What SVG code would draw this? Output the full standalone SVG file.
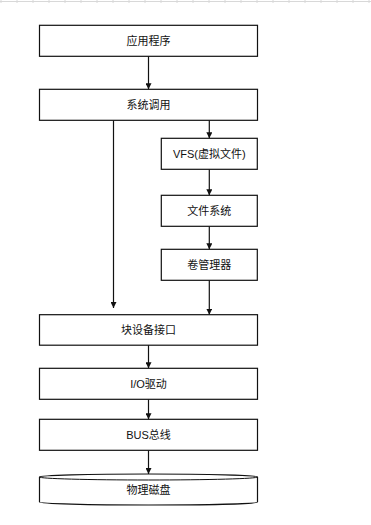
<svg xmlns="http://www.w3.org/2000/svg" width="371" height="525" viewBox="0 0 371 525">
<defs>
<style>
.box{fill:#fff;stroke:#111;stroke-width:1.2}
.lbl{font-family:"Liberation Sans","Noto Sans CJK SC",sans-serif;font-size:11px;fill:#111;text-anchor:middle;dominant-baseline:central}
.con{fill:none;stroke:#111;stroke-width:1.2;marker-end:url(#ah)}
.rule{stroke:#d8d8d8;stroke-width:1}
</style>
<marker id="ah" viewBox="0 0 8 8" refX="8" refY="4" markerWidth="6" markerHeight="6" markerUnits="userSpaceOnUse" orient="auto">
<path d="M0,0 L8,4 L0,8 Z" fill="#111"/>
</marker>
</defs>
<rect width="371" height="525" fill="#fff"/>
<g id="ruler">
<line class="rule" x1="0" y1="1.5" x2="371" y2="1.5"/>
<path class="rule" d="M1,0v3M17,0v3M33,0v3M49,0v3M65,0v3M81,0v3M97,0v3M113,0v3M129,0v3M145,0v3M161,0v3M177,0v3M193,0v3M209,0v3M225,0v3M241,0v3M257,0v3M273,0v3M289,0v3M305,0v3M321,0v3M337,0v3M353,0v3M369,0v3"/>
</g>
<g id="connectors">
<line class="con" x1="148.5" y1="56" x2="148.5" y2="89.3"/>
<line class="con" x1="209.3" y1="120.3" x2="209.3" y2="138.3"/>
<line class="con" x1="113.5" y1="120.3" x2="113.5" y2="308"/>
<line class="con" x1="209.3" y1="169.3" x2="209.3" y2="195.3"/>
<line class="con" x1="209.3" y1="226.3" x2="209.3" y2="249.3"/>
<line class="con" x1="209.3" y1="280.3" x2="209.3" y2="314.7"/>
<line class="con" x1="148.5" y1="345" x2="148.5" y2="368.3"/>
<line class="con" x1="148.5" y1="399.3" x2="148.5" y2="419.3"/>
<line class="con" x1="148.5" y1="450.3" x2="148.5" y2="474"/>
</g>
<g id="app"><rect class="box" x="39.5" y="25.3" width="218" height="31"/><text class="lbl" x="148.5" y="41">应用程序</text></g>
<g id="syscall"><rect class="box" x="39.5" y="89.3" width="218" height="31"/><text class="lbl" x="148.5" y="105">系统调用</text></g>
<g id="vfs"><rect class="box" x="161.3" y="138.3" width="96" height="31"/><text class="lbl" x="209.3" y="154">VFS(虚拟文件)</text></g>
<g id="fs"><rect class="box" x="161.3" y="195.3" width="96" height="31"/><text class="lbl" x="209.3" y="211">文件系统</text></g>
<g id="lvm"><rect class="box" x="161.3" y="249.3" width="96" height="31"/><text class="lbl" x="209.3" y="265">卷管理器</text></g>
<g id="blockdev"><rect class="box" x="39.5" y="314.7" width="218" height="30.5"/><text class="lbl" x="148.5" y="330">块设备接口</text></g>
<g id="iodrv"><rect class="box" x="39.5" y="368.3" width="218" height="31"/><text class="lbl" x="148.5" y="384">I/O驱动</text></g>
<g id="bus"><rect class="box" x="39.5" y="419.3" width="218" height="31"/><text class="lbl" x="148.5" y="435">BUS总线</text></g>
<g id="disk">
<path class="box" d="M39.5,477 A109,3 0 0 1 257.5,477 L257.5,502 A109,3 0 0 1 39.5,502 Z"/>
<path fill="none" stroke="#111" stroke-width="1" d="M39.5,477 A109,3 0 0 0 257.5,477"/>
<text class="lbl" x="148.5" y="489.5">物理磁盘</text>
</g>
</svg>
